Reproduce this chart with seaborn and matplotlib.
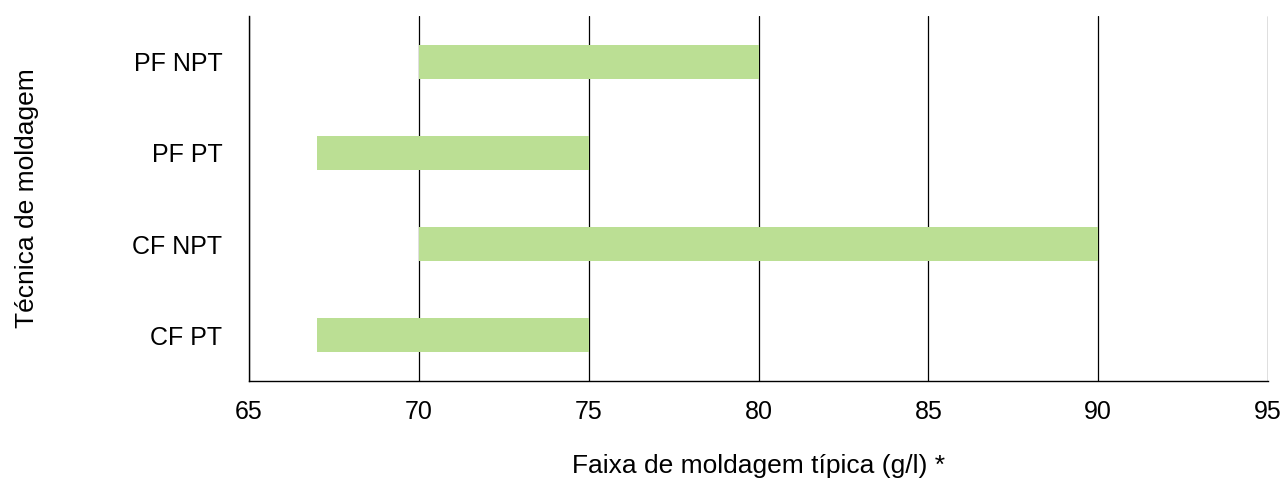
"""Faixa de moldagem típica por técnica de moldagem."""

import matplotlib
matplotlib.use("Agg")

import matplotlib.pyplot as plt
import pandas as pd
import seaborn as sns

tecnicas = ["PF NPT", "PF PT", "CF NPT", "CF PT"]
faixa_min = [70, 67, 70, 67]
faixa_max = [80, 75, 90, 75]
x_ticks = [65, 70, 75, 80, 85, 90, 95]

BAR_COLOR = "#bbdf94"

sns.set_theme(style="white")
plt.rcParams["font.family"] = ["Liberation Sans", "DejaVu Sans"]

df = pd.DataFrame({
    "Técnica": tecnicas,
    "Início": faixa_min,
    "Fim": faixa_max,
})
df["Largura"] = df["Fim"] - df["Início"]

fig, ax = plt.subplots(figsize=(12.85, 4.82), dpi=100)
fig.subplots_adjust(left=249 / 1285, right=1268 / 1285,
                    top=1 - 16 / 482, bottom=1 - 381 / 482)

sns.barplot(data=df, y="Técnica", x="Largura", color=BAR_COLOR,
            saturation=1, width=0.375, linewidth=0, ax=ax, orient="h")

# desloca cada barra para começar no valor mínimo da faixa
for patch, inicio in zip(ax.patches, df["Início"]):
    patch.set_x(inicio)
    patch.set_zorder(2)

ax.set_xlim(65, 95)
ax.set_ylim(3.5, -0.5)
ax.set_xticks(x_ticks)
ax.set_xticklabels([str(t) for t in x_ticks])
ax.xaxis.grid(True, color="black", linewidth=0.9)
ax.set_axisbelow(True)
ax.tick_params(axis="both", length=0, labelsize=18, colors="black")
ax.tick_params(axis="x", pad=14)
ax.tick_params(axis="y", pad=19)

for side in ["top", "right"]:
    ax.spines[side].set_visible(False)
for side in ["left", "bottom"]:
    ax.spines[side].set_color("black")
    ax.spines[side].set_linewidth(1.0)

ax.set_xlabel("Faixa de moldagem típica (g/l) *", fontsize=19, color="black")
ax.set_ylabel("Técnica de moldagem", fontsize=19, color="black")
ax.xaxis.set_label_coords(0.5, -(466 - 381) / 365, transform=ax.transAxes)
ax.xaxis.label.set_va("center")
ax.yaxis.set_label_coords(-(249 - 27) / 1019, 0.5)
ax.yaxis.label.set_va("center")

fig.savefig("out.png", dpi=100)
plt.close(fig)
